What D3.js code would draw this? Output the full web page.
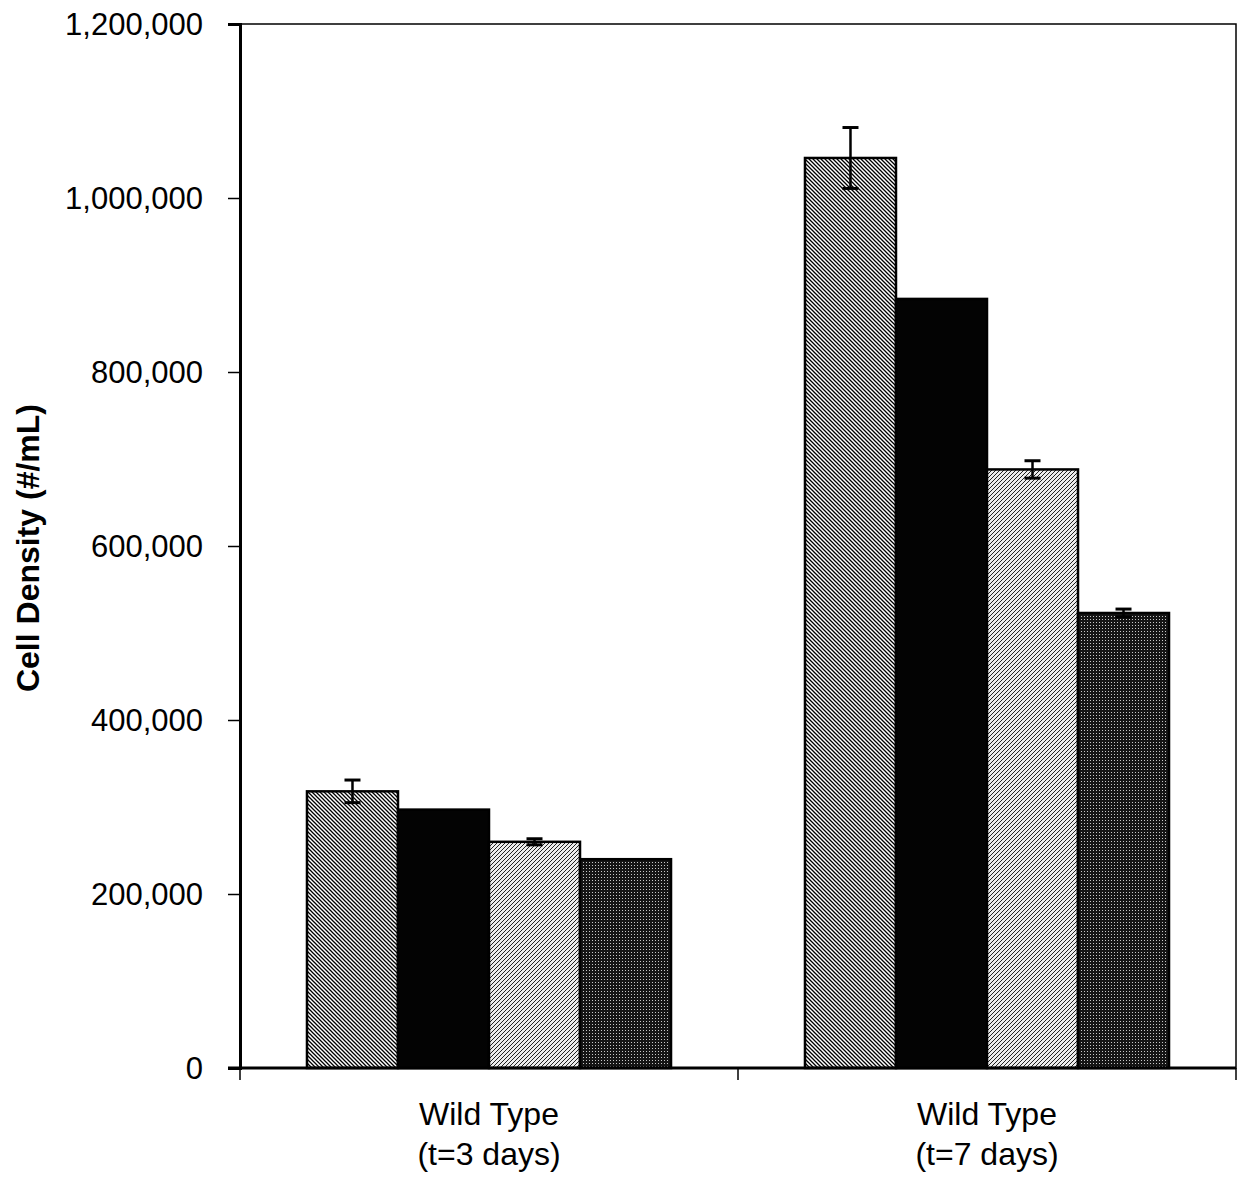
<!DOCTYPE html>
<html>
<head>
<meta charset="utf-8">
<script src="https://cdn.jsdelivr.net/npm/d3@7"></script>
<style>
  html, body { margin: 0; padding: 0; background: #fff; }
  svg { display: block; font-family: "Liberation Sans", Arial, sans-serif; }
</style>
</head>
<body>
<svg id="chart" width="1238" height="1177"></svg>
<script>
// Cell density by culture time, four conditions per group
const categories = ["t3", "t7"];
const categoryLines = [["Wild Type", "(t=3 days)"], ["Wild Type", "(t=7 days)"]];
const seriesKeys = ["s1", "s2", "s3", "s4"];
const seriesValues = [
  [318000, 297000, 260000, 240000],
  [1046000, 884000, 688000, 523000]
];
const seriesErrors = [
  [13000, 0, 3500, 0],
  [35000, 0, 10000, 4500]
];
const yTicks = [0, 200000, 400000, 600000, 800000, 1000000, 1200000];
const yTitle = "Cell Density (#/mL)";

const svg = d3.select("#chart");
const margin = { left: 240, top: 24, right: 2, bottom: 109 };
const W = 1238, H = 1177;
const x0 = margin.left, x1 = W - margin.right;
const y0 = H - margin.bottom, y1 = margin.top;

const x = d3.scaleBand().domain(categories).range([x0, x1]).paddingInner(0).paddingOuter(0);
const xs = d3.scaleBand().domain(seriesKeys).range([0, x.bandwidth()]).paddingOuter(0.736).paddingInner(0);
const y = d3.scaleLinear().domain([0, 1200000]).range([y0, y1]);

// Fill patterns
const defs = svg.append("defs");
// diagonal "\" hatch
const p1 = defs.append("pattern").attr("id", "pat1").attr("patternUnits", "userSpaceOnUse")
  .attr("width", 4).attr("height", 4);
p1.append("rect").attr("width", 4).attr("height", 4).attr("fill", "#fff");
p1.append("path").attr("d", "M-1,-1 L5,5 M-1,3 L1,5 M3,-1 L5,1").attr("stroke", "#000").attr("stroke-width", 1.3);
// solid black
const p2 = defs.append("pattern").attr("id", "pat2").attr("patternUnits", "userSpaceOnUse")
  .attr("width", 4).attr("height", 4);
p2.append("rect").attr("width", 4).attr("height", 4).attr("fill", "#030303");
// fine "/" hatch, light
const p3 = defs.append("pattern").attr("id", "pat3").attr("patternUnits", "userSpaceOnUse")
  .attr("width", 4).attr("height", 4);
p3.append("rect").attr("width", 4).attr("height", 4).attr("fill", "#ececec");
p3.append("path").attr("d", "M-1,5 L5,-1 M-1,1 L1,-1 M3,5 L5,3").attr("stroke", "#222").attr("stroke-width", 1.0);
// dark with light dots
const p4 = defs.append("pattern").attr("id", "pat4").attr("patternUnits", "userSpaceOnUse")
  .attr("width", 3).attr("height", 3);
p4.append("rect").attr("width", 3).attr("height", 3).attr("fill", "#151515");
p4.append("rect").attr("x", 1).attr("y", 1).attr("width", 1).attr("height", 1).attr("fill", "#c8c8c8");
const fills = { s1: "url(#pat1)", s2: "url(#pat2)", s3: "url(#pat3)", s4: "url(#pat4)" };

// Plot frame (top and right)
svg.append("rect").attr("x", x0).attr("y", y1).attr("width", x1 - x0).attr("height", y0 - y1)
  .attr("fill", "none").attr("stroke", "#000").attr("stroke-width", 1.5);

// Bars
const groups = svg.append("g").selectAll("g").data(categories).join("g")
  .attr("transform", c => `translate(${x(c)},0)`);
groups.each(function(c, ci) {
  const g = d3.select(this);
  const data = seriesKeys.map((k, i) => ({ k, v: seriesValues[ci][i], e: seriesErrors[ci][i] }));
  g.selectAll("rect").data(data).join("rect")
    .attr("x", d => xs(d.k))
    .attr("y", d => y(d.v))
    .attr("width", xs.bandwidth())
    .attr("height", d => y(0) - y(d.v))
    .attr("fill", d => fills[d.k])
    .attr("stroke", "#000").attr("stroke-width", 2.5);
  // error bars
  const eb = g.selectAll("g.err").data(data.filter(d => d.e > 0)).join("g").attr("class", "err");
  eb.append("line")
    .attr("x1", d => xs(d.k) + xs.bandwidth() / 2).attr("x2", d => xs(d.k) + xs.bandwidth() / 2)
    .attr("y1", d => y(d.v + d.e)).attr("y2", d => y(d.v - d.e))
    .attr("stroke", "#000").attr("stroke-width", 2.5);
  [1, -1].forEach(s => {
    eb.append("line")
      .attr("x1", d => xs(d.k) + xs.bandwidth() / 2 - 8).attr("x2", d => xs(d.k) + xs.bandwidth() / 2 + 8)
      .attr("y1", d => y(d.v + s * d.e)).attr("y2", d => y(d.v + s * d.e))
      .attr("stroke", "#000").attr("stroke-width", 3);
  });
});

// Y axis
const yAxis = d3.axisLeft(y).tickValues(yTicks).tickSize(12).tickPadding(25)
  .tickFormat(d3.format(","));
const ya = svg.append("g").attr("transform", `translate(${x0},0)`).call(yAxis);
ya.select(".domain").attr("stroke-width", 3);
ya.selectAll(".tick line").attr("stroke-width", 1.5);
ya.selectAll("text").attr("font-size", 31).attr("fill", "#000").attr("dy", "0.35em")
  .attr("font-family", "'Liberation Sans', Arial, sans-serif");

// X axis: ticks at category boundaries
svg.append("line").attr("x1", x0 - 12).attr("x2", x1).attr("y1", y0).attr("y2", y0)
  .attr("stroke", "#000").attr("stroke-width", 3);
const bounds = [x0, x(categories[1]), x1];
svg.selectAll("line.xt").data(bounds).join("line").attr("class", "xt")
  .attr("x1", d => d).attr("x2", d => d).attr("y1", y0).attr("y2", y0 + 12)
  .attr("stroke", "#000").attr("stroke-width", 1.5);

// Category labels
categories.forEach((c, i) => {
  const t = svg.append("text").attr("x", x(c) + x.bandwidth() / 2).attr("y", 1125)
    .attr("text-anchor", "middle").attr("font-size", 32).attr("fill", "#000");
  categoryLines[i].forEach((ln, j) => {
    t.append("tspan").attr("x", x(c) + x.bandwidth() / 2).attr("dy", j === 0 ? 0 : 40).text(ln);
  });
});

// Y title
svg.append("text").attr("transform", `translate(39,548) rotate(-90)`)
  .attr("text-anchor", "middle").attr("font-size", 32).attr("font-weight", "bold")
  .attr("fill", "#000").text(yTitle);
</script>
</body>
</html>
